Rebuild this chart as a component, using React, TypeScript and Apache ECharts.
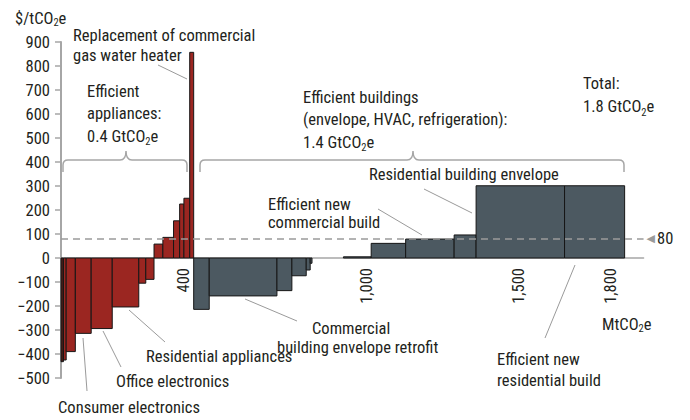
import React, { useEffect, useRef } from "react";
import * as echarts from "echarts";

const FONT = '"Liberation Sans Narrow", "Arial Narrow", "Roboto Condensed", Roboto, sans-serif';
const FS = 16.5;
const TEXT = "#231f20";
const GUIDE = "#a6a6a6";

// Efficient appliances: width (MtCO2e) and cost ($/tCO2e) of each lever
const applianceWidths = [8, 9, 30, 52, 69, 87, 23, 27, 29, 35, 20, 14, 19, 13];
const applianceCosts = [-432, -425, -390, -314, -294, -204, -105, -89, 58, 86, 155, 225, 249, 857];

// Efficient buildings (envelope, HVAC, refrigeration)
const buildingWidths = [51, 222, 49, 47, 13, 6, 103, 91, 113, 159, 72, 290, 197];
const buildingCosts = [-214, -158, -136, -74, -50, -22, 0, 5, 61, 79, 96, 301, 301];

const yMin = -500;
const yMax = 900;
const yStep = 100;
const xMin = 0;
const xMax = 1910;
const xStep = 100;
const xTickLabels = [400, 1000, 1500, 1800];
const referenceCost = 80;

const COLORS = ["#9b2621", "#4c5961", "#4a1c18"];

function buildBars() {
  const rows: number[][] = [];
  let pos = 0;
  applianceWidths.forEach((w, i) => {
    rows.push([pos, pos + w, applianceCosts[i], i === 0 ? 2 : 0]);
    pos += w;
  });
  buildingWidths.forEach((w, i) => {
    rows.push([pos, pos + w, buildingCosts[i], 1]);
    pos += w;
  });
  return rows;
}

const brace1 = "M63 172 L63 165 Q63 160 68 160 L120 160 Q126 160 126 151 Q126 160 132 160 L182 160 Q187 160 187 165 L187 172";
const brace2 = "M200 172 L200 165 Q200 160 205 160 L407 160 Q413 160 413 151 Q413 160 419 160 L619 160 Q624 160 624 165 L624 172";
echarts.graphic.registerShape("brace1", echarts.graphic.extendPath(brace1, {}));
echarts.graphic.registerShape("brace2", echarts.graphic.extendPath(brace2, {}));

const subRich = {
  s: { fontSize: 10.5, lineHeight: 10, verticalAlign: "bottom", fontFamily: FONT, fill: TEXT, color: TEXT },
};

function txt(text: string, x: number, yFirstCenter: number, lineHeight = 20, fontSize = FS) {
  return {
    type: "text",
    x,
    y: yFirstCenter - lineHeight / 2,
    silent: true,
    style: {
      text,
      fontSize,
      fontFamily: FONT,
      fill: TEXT,
      lineHeight,
      verticalAlign: "top",
      align: "left",
      rich: subRich,
    },
  };
}

function leader(x1: number, y1: number, x2: number, y2: number) {
  return {
    type: "line",
    silent: true,
    shape: { x1, y1, x2, y2 },
    style: { stroke: "#9a9a9a", lineWidth: 1 },
  };
}

export default function App() {
  const ref = useRef<HTMLDivElement>(null);
  useEffect(() => {
    document.body.style.margin = "0";
    const chart = echarts.init(ref.current!, null, { renderer: "svg" });
    const bars = buildBars();
    chart.setOption({
      animation: false,
      backgroundColor: "#ffffff",
      grid: {
        left: 61,
        right: 690 - 61 - (xMax - xMin) * 0.305,
        top: 42,
        bottom: 42,
        containLabel: false,
        outerBoundsMode: "none",
      },
      xAxis: {
        type: "value",
        min: xMin,
        max: xMax,
        interval: xStep,
        axisLine: { show: true, onZero: true, lineStyle: { color: GUIDE, width: 1.5 } },
        axisTick: { show: false },
        splitLine: { show: false },
        axisLabel: { show: false },
      },
      yAxis: {
        type: "value",
        min: yMin,
        max: yMax,
        interval: yStep,
        axisLine: { show: true, onZero: false, lineStyle: { color: GUIDE, width: 2 } },
        axisTick: { show: true, length: 6, lineStyle: { color: GUIDE, width: 1.5 } },
        splitLine: { show: false },
        axisLabel: {
          margin: 11,
          fontSize: FS,
          fontFamily: FONT,
          color: TEXT,
          formatter: (v: number) => (v < 0 ? "\u2212" + Math.abs(v) : String(v)),
        },
      },
      series: [
        {
          type: "custom",
          data: bars,
          encode: { x: [0, 1], y: 2 },
          renderItem: (params: any, api: any) => {
            const start = api.value(0);
            const end = api.value(1);
            const cost = api.value(2);
            const group = api.value(3);
            const p1 = api.coord([start, cost]);
            const p0 = api.coord([end, 0]);
            const y = Math.min(p1[1], p0[1]);
            const h = Math.abs(p0[1] - p1[1]);
            return {
              type: "rect",
              shape: { x: p1[0], y, width: p0[0] - p1[0], height: h },
              style: {
                fill: COLORS[group],
                stroke: h < 0.5 ? "none" : "#161616",
                lineWidth: 1,
              },
            };
          },
          markLine: {
            silent: true,
            symbol: ["none", "none"],
            lineStyle: { type: [7, 5], color: "#9a9a9a", width: 1.5 },
            label: {
              show: true,
              position: "end",
              distance: 3,
              formatter: "{t|\u25C0}{n|" + referenceCost + "}",
              rich: {
                t: { fontFamily: "DejaVu Sans", fontSize: 11, color: "#9a9a9a", padding: [0, 2, 0, 0] },
                n: { fontFamily: FONT, fontSize: FS, color: TEXT },
              },
            },
            data: [{ yAxis: referenceCost }],
          },
        },
        {
          type: "custom",
          silent: true,
          data: xTickLabels.map((v) => [v, 0]),
          encode: { x: 0, y: 1 },
          renderItem: (params: any, api: any) => {
            const v = api.value(0);
            const p = api.coord([v, 0]);
            return {
              type: "text",
              x: p[0],
              y: p[1] + 10,
              rotation: Math.PI / 2,
              style: {
                text: v.toLocaleString("en-US"),
                fontSize: FS,
                fontFamily: FONT,
                fill: TEXT,
                align: "right",
                verticalAlign: "middle",
              },
            };
          },
        },
      ],
      graphic: [
        { type: "brace1", x: 0, y: 0, silent: true, style: { stroke: GUIDE, lineWidth: 1.5, fill: "none" } },
        { type: "brace2", x: 0, y: 0, silent: true, style: { stroke: GUIDE, lineWidth: 1.5, fill: "none" } },
        txt("$/tCO{s|2}e", 15, 18, 20),
        txt("Replacement of commercial\ngas water heater", 73, 35, 20),
        txt("Efficient\nappliances:\n0.4 GtCO{s|2}e", 87, 91, 22.5),
        txt("Efficient buildings\n(envelope, HVAC, refrigeration):\n1.4 GtCO{s|2}e", 303, 97, 22.5),
        txt("Total:\n1.8 GtCO{s|2}e", 583, 83, 23.5),
        txt("Residential building envelope", 369, 174, 20),
        txt("Efficient new\ncommercial build", 268, 204, 18.5),
        txt("Commercial", 312, 328, 20),
        txt("building envelope retrofit", 277, 347, 20),
        txt("Residential appliances", 146, 356, 20),
        txt("Office electronics", 116, 381, 20),
        txt("Consumer electronics", 58, 407, 20),
        txt("Efficient new\nresidential build", 497, 359, 21),
        txt("MtCO{s|2}e", 602, 324, 20),
        leader(158, 65, 187, 79),
        leader(424, 189, 472, 213),
        leader(378, 209, 422, 235),
        leader(245, 299, 297, 321),
        leader(129, 310, 165, 342),
        leader(103, 331, 121, 367),
        leader(83, 338, 87, 391),
        leader(575, 265, 545, 338),
      ],
    });
    return () => chart.dispose();
  }, []);
  return <div ref={ref} style={{ position: "absolute", left: 0, top: 0, width: 690, height: 420 }} />;
}
